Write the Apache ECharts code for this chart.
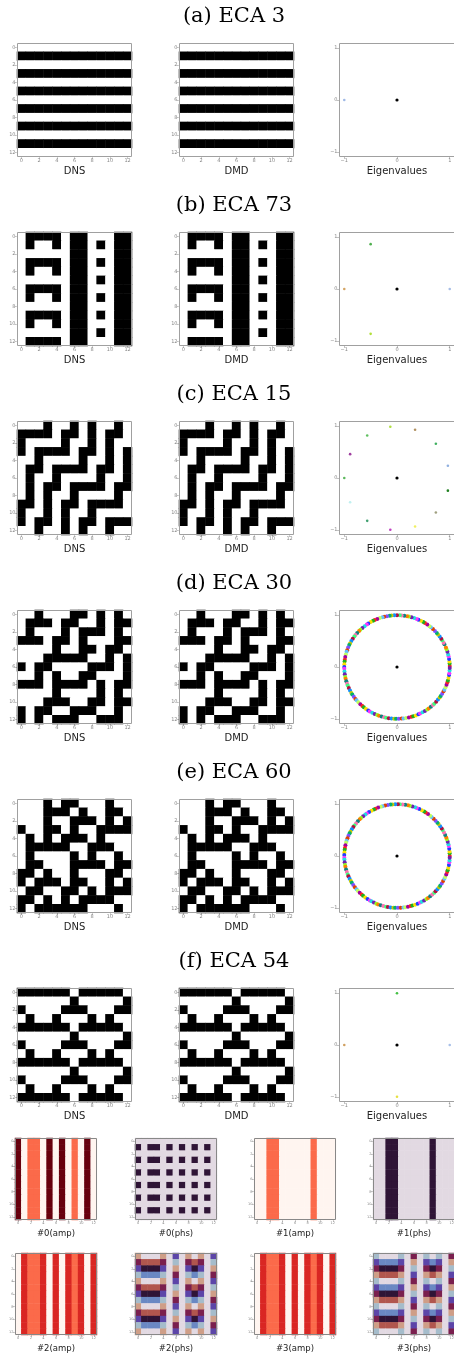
<!DOCTYPE html>
<html><head><meta charset="utf-8">
<script src="https://cdn.jsdelivr.net/npm/echarts@6/dist/echarts.min.js"></script>
<style>html,body{margin:0;padding:0;background:#fff}#c{width:454px;height:1359px}</style>
</head><body><div id="c"></div><script>
// ---------------- DATA ----------------
const panelTitles = ['(a) ECA 3', '(b) ECA 73', '(c) ECA 15', '(d) ECA 30', '(e) ECA 60', '(f) ECA 54'];
const panelLabels = ['DNS', 'DMD', 'Eigenvalues'];
const modeLabels = ['#0(amp)', '#0(phs)', '#1(amp)', '#1(phs)', '#2(amp)', '#2(phs)', '#3(amp)', '#3(phs)'];
const cellCats = ['0','1','2','3','4','5','6','7','8','9','10','11','12'];
const eigTicks = [-1, 0, 1];

// 13x13 space-time diagrams (row = time, col = cell), 1 = black
const eca3 = ['0000000000000','1111111111111','0000000000000','1111111111111','0000000000000','1111111111111','0000000000000','1111111111111','0000000000000','1111111111111','0000000000000','1111111111111','0000000000000'];
const eca73 = ['0111101100011','0100101101011','0000001100011','0111101101011','0100101100011','0000001101011','0111101100011','0100101101011','0000001100011','0111101101011','0100101100011','0000001101011','0111101100011'];
const eca15 = ['0001001010010','1111011010110','1000010010100','1011110110101','0010000100101','0110111101101','0100100001001','0101101111011','0101001000010','1101011011110','1001010010000','1011010110111','0010010100100'];
const eca30 = ['0010001101010','0111011001011','0100010111010','1110110100011','0000100110110','0001111100101','1011000011101','0010100110001','1110111101011','0000100001010','0001110011011','1011001110010','1010111001110'];
const eca60 = ['0001011000100','0001110100110','0001001110101','1001101001111','0101011101000','0111110011100','0100001010010','0110001111011','1101001000110','1011101100101','0110011010111','1101010111100','1011111100010'];
const eca54 = ['1111110111110','0000001000001','1000011100011','0100100010100','1111110111110','0000001000001','1000011100011','0100100010100','1111110111110','0000001000001','1000011100011','0100100010100','1111110111110'];

// eigenvalues [re, im]
const eig3 = [[0, 0], [-1, 0]];
const eig73 = [[0, 0], [-1, 0], [1, 0], [-0.5, 0.866], [-0.5, -0.866]];
const eig15 = [[0, 0], [-1.0, 0], [-0.889, 0.46], [-0.565, 0.82], [-0.127, 0.99], [0.343, 0.93], [0.737, 0.66], [0.965, 0.237],
  [0.965, -0.244], [0.737, -0.667], [0.343, -0.936], [-0.127, -1.0], [-0.565, -0.827], [-0.889, -0.468]];
const eig54 = [[0, 0], [0, 1], [0, -1], [-1, 0], [1, 0]];
// ECA 30 / 60: eigenvalues on the unit circle, given by angle (degrees)
const eig30Angles = [1,4,6,9,12,14,17,20,22,26,28,31,33,36,39,41,44,47,50,52,55,58,60,63,66,68,71,74,77,79,82,85,87,90,93,96,98,101,104,106,109,112,115,117,120,123,125,128,131,134,136,139,142,144,147,150,153,155,158,161,163,166,169,172,174,177,180,182,185,188,191,193,196,199,201,204,207,210,212,215,218,220,223,226,229,231,234,237,239,242,245,248,250,253,256,258,261,264,267,269,272,275,277,280,283,286,288,291,294,296,299,302,305,307,310,313,315,318,321,324,326,329,332,334,337,340,343,345,348,351,353,356,359];
const eig60Angles = [0,3,5,8,11,13,16,19,21,24,27,30,32,35,38,40,43,46,49,51,54,57,59,62,65,68,70,73,76,78,81,84,87,89,92,95,97,100,103,106,108,111,114,116,119,122,125,127,130,133,135,138,141,144,146,149,152,154,157,160,163,165,168,171,173,176,179,182,184,187,190,192,195,198,201,203,206,209,211,214,217,220,222,225,228,230,233,236,239,241,244,247,249,252,255,258,260,263,266,268,271,274,277,279,282,285,287,290,293,296,298,301,304,306,309,312,315,317,320,323,325,328,331,334,336,339,342,344,347,350,353,355,358];

// DMD modes: amplitude codes and phase (in eighths of a turn)
const ampLevels = {'.': 0, 'O': 0.5, 'R': 0.7, 'D': 1.0};
const mode0Amp = Array(13).fill('D.OO.D.D.O.D.');
const mode1Amp = Array(13).fill('..OO.....O...');
const mode2Amp = Array(13).fill('.ROOR.R.ROR.R');
const mode3Amp = Array(13).fill('.ROOR.R.ROR.R');
const mode0Phs = ['0000000000000','4044040404040','0000000000000','4044040404040','0000000000000','4044040404040','0000000000000','4044040404040','0000000000000','4044040404040','0000000000000','4044040404040','0000000000000'];
const mode1Phs = Array(13).fill('0044000004000');
const mode2Phs = ['7000703070703','5666501056501','3444307034307','1222105012105','7000703070703','5666501056501','3444307034307','1222105012105','7000703070703','5666501056501','3444307034307','1222105012105','7000703070703'];
const mode3Phs = ['1000105010105','3222307032307','5444501054501','7666703076703','1000105010105','3222307032307','5444501054501','7666703076703','1000105010105','3222307032307','5444501054501','7666703076703','1000105010105'];

// ---------------- STYLE ----------------
const binMap = ['#ffffff', '#000000'];
const redsMap = ['#fff5f0','#fee0d2','#fcbba1','#fc9272','#fb6a4a','#ef3b2c','#cb181d','#a50f15','#67000d'];
const twilightMap = ['#e2d9e2','#a5bccb','#6a88c3','#5c45a8','#2f1436','#7a1f4e','#b1564e','#cf9e87','#e2d9e2'];
const eig3Colors = ['#000000', '#9fb9e6'];
const eig73Colors = ['#000000', '#d4a464', '#a6bde6', '#4fb04f', '#b2e03a'];
const eig15Colors = ['#000000','#5cb85c','#a040a0','#60c060','#b0e040','#b09060','#40b060','#90b0e0','#208020','#a0a080','#f0f060','#c040c0','#40a070','#c0f0f0'];
const eig54Colors = ['#000000', '#45c045', '#e6e040', '#d0a060', '#a8c0e8'];
const ringPalette = ['#ff2020','#20b020','#ffe000','#2040ff','#ff30ff','#20e0e0','#7020b0','#90ff20','#ff8000','#108080','#ff70b0','#40ff80','#b01040','#1090ff','#c8c800','#00b070','#8050ff','#e04000','#60c0ff','#c0ff60','#a000a0'];

const rowTop0 = 43, rowStep = 189, plotH = 114;
const colLeft = [17, 179, 339], colW = [115, 115, 116];
const titleX = 234;
const modeLeft = [15, 135, 254, 373], modeTop = [1138, 1253], modeSize = 82;

// ---------------- BUILD ----------------
const grid = [], xAxis = [], yAxis = [], series = [], visualMap = [], graphic = [];
const minusFmt = v => (v < 0 ? '\u2212' + Math.abs(v) : String(v));

function frame(l, t, w, h, c) {
  graphic.push({type: 'rect', z: 100, silent: true, shape: {x: l + 0.5, y: t + 0.5, width: w - 1, height: h - 1},
    style: {fill: null, stroke: c, lineWidth: 1}});
}
function text(x, y, s, font, color) {
  graphic.push({type: 'text', z: 100, silent: true, x: x, y: y,
    style: {text: s, font: font, fill: color, align: 'center', verticalAlign: 'middle', textAlign: 'center', textVerticalAlign: 'middle'}});
}
function catAxis(gi, isY, fs) {
  return {type: 'category', gridIndex: gi, data: cellCats, inverse: isY, boundaryGap: true,
    axisLine: {show: false, onZero: false},
    axisTick: {show: true, alignWithLabel: true, interval: 1, length: 2, lineStyle: {color: '#999', width: 0.6}},
    axisLabel: {show: true, interval: 1, fontSize: fs, color: '#888', margin: 1.5, fontFamily: 'DejaVu Sans'},
    splitLine: {show: false}, splitArea: {show: false}};
}
function addHeat(l, t, w, h, rows, decode, cmap, fs, frameColor) {
  const gi = grid.length;
  grid.push({left: l, top: t, width: w, height: h, containLabel: false, outerBoundsMode: 'none'});
  xAxis.push(catAxis(gi, false, fs));
  yAxis.push(catAxis(gi, true, fs));
  const data = [];
  rows.forEach((r, yi) => { for (let xi = 0; xi < 13; xi++) data.push([xi, yi, decode(r[xi])]); });
  series.push({type: 'heatmap', xAxisIndex: gi, yAxisIndex: gi, data: data, progressive: 0,
    emphasis: {disabled: true}, itemStyle: {borderWidth: 0}});
  visualMap.push({type: 'continuous', show: false, min: 0, max: 1, seriesIndex: series.length - 1,
    dimension: 2, inRange: {color: cmap}});
  frame(l, t, w, h, frameColor);
}
function addEig(l, t, w, h, pts, colors, sizes) {
  const gi = grid.length;
  grid.push({left: l, top: t, width: w, height: h, containLabel: false, outerBoundsMode: 'none'});
  const ax = () => ({type: 'value', gridIndex: gi, min: -1.1, max: 1.1, axisLine: {show: false, onZero: false}, splitLine: {show: false},
    axisTick: {show: true, length: 2, customValues: eigTicks, lineStyle: {color: '#999', width: 0.6}},
    axisLabel: {show: true, customValues: eigTicks, formatter: minusFmt, fontSize: 5, color: '#888', margin: 1.5, fontFamily: 'DejaVu Sans'}});
  xAxis.push(Object.assign(ax(), {position: 'bottom'}));
  yAxis.push(Object.assign(ax(), {position: 'left'}));
  series.push({type: 'scatter', xAxisIndex: gi, yAxisIndex: gi, silent: true,
    data: pts.map((p, i) => ({value: p, symbolSize: sizes(i), itemStyle: {color: colors[i], opacity: 1}}))});
  frame(l, t, w, h, '#a0a0a0');
}

const ringPts = ang => ang.map(a => [Math.cos(a * Math.PI / 180), Math.sin(a * Math.PI / 180)]).concat([[0, 0]]);
const ringCols = ang => ang.map((a, i) => ringPalette[i % ringPalette.length]).concat(['#000000']);

const ecaRows = [
  {grid: eca3, dmd: eca3, eig: eig3, cols: eig3Colors},
  {grid: eca73, dmd: eca73, eig: eig73, cols: eig73Colors},
  {grid: eca15, dmd: eca15, eig: eig15, cols: eig15Colors},
  {grid: eca30, dmd: eca30, eig: ringPts(eig30Angles), cols: ringCols(eig30Angles)},
  {grid: eca60, dmd: eca60, eig: ringPts(eig60Angles), cols: ringCols(eig60Angles)},
  {grid: eca54, dmd: eca54, eig: eig54, cols: eig54Colors}
];

const bin = ch => Number(ch);
ecaRows.forEach((r, k) => {
  const top = rowTop0 + rowStep * k;
  text(titleX, top - 26, panelTitles[k], '21px "DejaVu Serif"', '#000');
  addHeat(colLeft[0], top, colW[0], plotH, r.grid, bin, binMap, 5, '#a0a0a0');
  addHeat(colLeft[1], top, colW[1], plotH, r.dmd, bin, binMap, 5, '#a0a0a0');
  const ring = r.eig.length > 20;
  addEig(colLeft[2], top, colW[2], plotH, r.eig, r.cols,
    i => (r.cols[i] === '#000000' ? 3.2 : (ring ? 4 : 2.6)));
  for (let j = 0; j < 3; j++) text(colLeft[j] + colW[j] / 2, top + plotH + 14, panelLabels[j], '10px "DejaVu Sans"', '#222');
});

const amp = ch => ampLevels[ch];
const phs = ch => Number(ch) / 8;
const modes = [
  [mode0Amp, amp, redsMap], [mode0Phs, phs, twilightMap], [mode1Amp, amp, redsMap], [mode1Phs, phs, twilightMap],
  [mode2Amp, amp, redsMap], [mode2Phs, phs, twilightMap], [mode3Amp, amp, redsMap], [mode3Phs, phs, twilightMap]
];
modes.forEach((m, i) => {
  const l = modeLeft[i % 4], t = modeTop[Math.floor(i / 4)];
  addHeat(l, t, modeSize, modeSize, m[0], m[1], m[2], 3.5, '#888');
  text(l + modeSize / 2, t + modeSize + 14, modeLabels[i], '8.5px "DejaVu Sans"', '#222');
});

const chart = echarts.init(document.getElementById('c'), null, {renderer: 'canvas'});
chart.setOption({animation: false, backgroundColor: '#fff', grid, xAxis, yAxis, series, visualMap, graphic});
</script></body></html>
